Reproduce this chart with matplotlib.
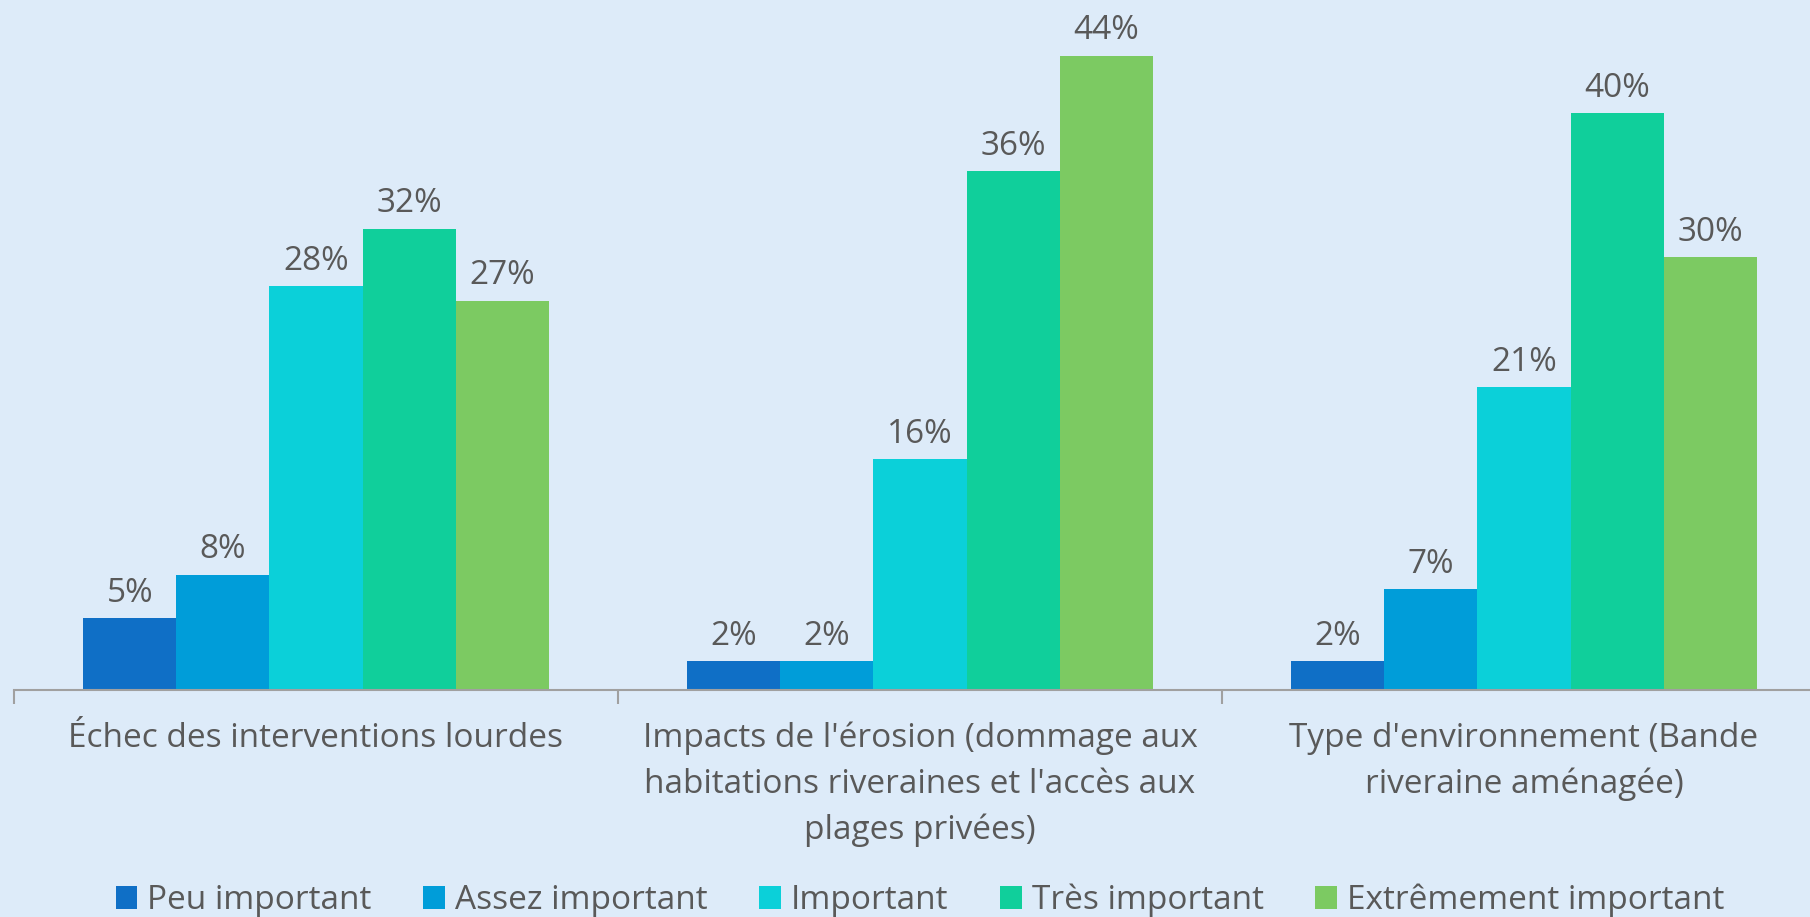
import numpy as np
import matplotlib
matplotlib.use("Agg")
import matplotlib.pyplot as plt

# data
categories = [
    "Échec des interventions lourdes",
    "Impacts de l'érosion (dommage aux\nhabitations riveraines et l'accès aux\nplages privées)",
    "Type d'environnement (Bande\nriveraine aménagée)",
]
series_names = ["Peu important", "Assez important", "Important",
                "Très important", "Extrêmement important"]
peu = [5, 2, 2]
assez = [8, 2, 7]
important = [28, 16, 21]
tres = [32, 36, 40]
extreme = [27, 44, 30]
values = [peu, assez, important, tres, extreme]
colors = ["#0F6FC6", "#009DD9", "#0BD0D9", "#10CF9B", "#7CCA62"]

bg = "#DDEBF9"
txt = "#595959"
plt.rcParams['font.family'] = ['Open Sans', 'DejaVu Sans']
fs = 24

fig = plt.figure(figsize=(18.1, 9.17), dpi=100, facecolor=bg)
ax = fig.add_axes([14/1810, 227/917, 1812/1810, 690/917])
ax.set_facecolor(bg)

x = np.arange(len(categories))
w = 0.154
for i, (name, vals) in enumerate(zip(series_names, values)):
    pos = x + (i - 2) * w
    bars = ax.bar(pos, vals, w, color=colors[i], label=name, linewidth=0)
    for b, v in zip(bars, vals):
        ax.annotate(f"{v}%", (b.get_x() + b.get_width() / 2, b.get_height()),
                    xytext=(0, 6), textcoords="offset points",
                    ha="center", va="bottom", fontsize=fs, color=txt)

ax.set_xlim(-0.5, 2.5)
ax.set_ylim(0, 47.85)
for s in ["top", "right", "left"]:
    ax.spines[s].set_visible(False)
ax.spines["bottom"].set_color("#A0A0A0")
ax.spines["bottom"].set_linewidth(1.5)
ax.set_yticks([])
ax.set_xticks(x)
ax.set_xticklabels(categories, fontsize=fs, color=txt, linespacing=1.5)
ax.tick_params(axis="x", length=0, pad=23)
ax.set_xticks([-0.5, 0.5, 1.5, 2.5], minor=True)
ax.tick_params(axis="x", which="minor", length=10, width=1.5, color="#A0A0A0")

leg = ax.legend(loc="center", bbox_to_anchor=(0.5, -0.305), ncol=5, frameon=False,
                fontsize=fs, handlelength=0.65, handleheight=0.65, handletextpad=0.3,
                columnspacing=1.55)
for t in leg.get_texts():
    t.set_color(txt)

fig.savefig("out.png", dpi=100, facecolor=bg)
